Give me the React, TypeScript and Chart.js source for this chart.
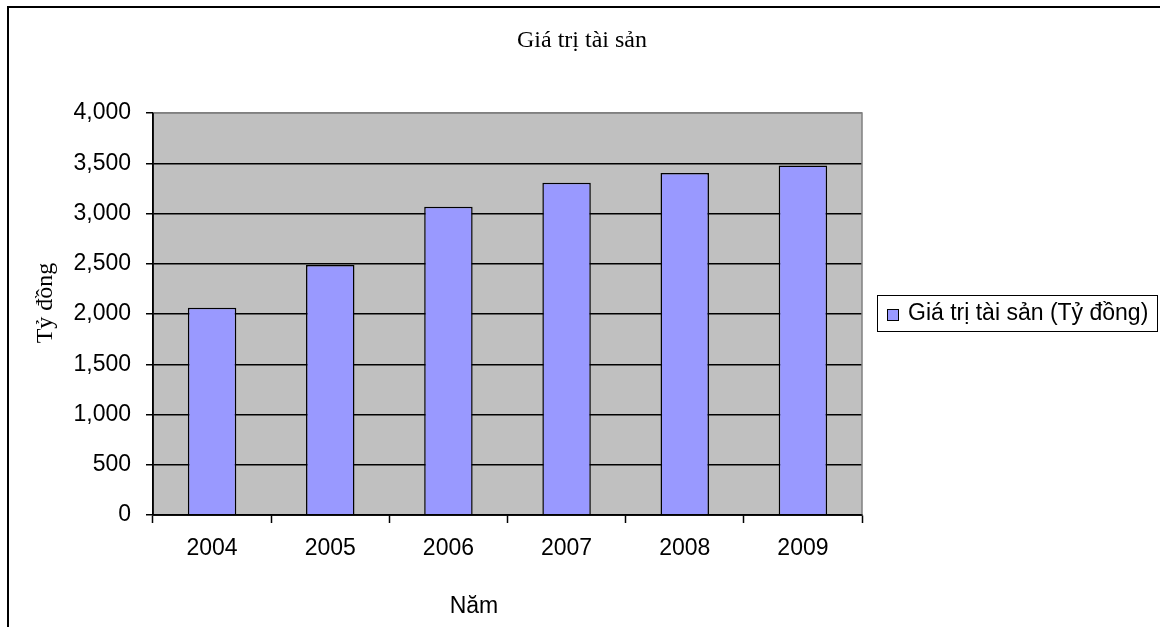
import React, { useEffect, useRef } from "react";
import { Chart, registerables } from "chart.js";

Chart.register(...registerables);

const years = ["2004", "2005", "2006", "2007", "2008", "2009"];
const assetValues = [2063, 2487, 3068, 3305, 3404, 3477];
const seriesLabel = "Giá trị tài sản (Tỷ đồng)";
const chartTitle = "Giá trị tài sản";
const yAxisTitle = "Tỷ đồng";
const xAxisTitle = "Năm";

const SANS = "'Liberation Sans', Arial, sans-serif";
const SERIF = "'Liberation Serif', 'Times New Roman', serif";
const BAR_FILL = "#9999FF";
const PLOT_FILL = "#C0C0C0";

// Frame, plot background, titles and the boxed legend
const decorations = {
  id: "decorations",
  beforeDraw(chart: any) {
    const { ctx, chartArea: a } = chart;
    ctx.save();
    ctx.fillStyle = "#FFFFFF";
    ctx.fillRect(0, 0, chart.width, chart.height);
    ctx.fillStyle = PLOT_FILL;
    ctx.fillRect(a.left, a.top, a.right - a.left, a.bottom - a.top);
    ctx.restore();
  },
  afterDraw(chart: any) {
    const { ctx, chartArea: a } = chart;
    ctx.save();
    // outer chart frame
    ctx.strokeStyle = "#000";
    ctx.lineWidth = 2;
    ctx.strokeRect(8, 7, 2000, 2000);

    // plot area border (top/right gray)
    ctx.strokeStyle = "#808080";
    ctx.lineWidth = 1.5;
    ctx.beginPath();
    ctx.moveTo(a.left, a.top);
    ctx.lineTo(a.right, a.top);
    ctx.lineTo(a.right, a.bottom);
    ctx.stroke();
    ctx.strokeStyle = "#000";
    ctx.beginPath();
    ctx.moveTo(a.left, a.bottom);
    ctx.lineTo(a.right, a.bottom);
    ctx.moveTo(a.left, a.top);
    ctx.lineTo(a.left, a.bottom);
    ctx.stroke();

    ctx.fillStyle = "#000";
    // chart title
    ctx.font = `24px ${SERIF}`;
    ctx.textAlign = "center";
    ctx.textBaseline = "middle";
    ctx.fillText(chartTitle, 582, 41);

    // y axis title
    ctx.save();
    ctx.translate(46, 303);
    ctx.rotate(-Math.PI / 2);
    ctx.fillText(yAxisTitle, 0, 0);
    ctx.restore();

    // x axis title
    ctx.font = `23px ${SANS}`;
    ctx.fillText(xAxisTitle, 474, 607);

    // legend
    const lx = 877, ly = 295, lw = 280, lh = 36;
    ctx.strokeStyle = "#000";
    ctx.lineWidth = 1;
    ctx.strokeRect(lx + 0.5, ly + 0.5, lw, lh);
    ctx.fillStyle = BAR_FILL;
    ctx.fillRect(887, 309, 12, 12);
    ctx.strokeRect(887.5, 309.5, 11, 11);
    ctx.fillStyle = "#000";
    ctx.textAlign = "left";
    ctx.fillText(chart.data.datasets[0].label, 908, 314);
    ctx.restore();
  },
};

export default function App() {
  const canvasRef = useRef<HTMLCanvasElement | null>(null);

  useEffect(() => {
    document.body.style.margin = "0";
    const canvas = canvasRef.current;
    if (!canvas) return;
    const chart = new Chart(canvas, {
      type: "bar",
      data: {
        labels: years,
        datasets: [
          {
            label: seriesLabel,
            data: assetValues,
            backgroundColor: BAR_FILL,
            borderColor: "#000",
            borderWidth: 1.5,
            barPercentage: 0.41,
            categoryPercentage: 1,
          },
        ],
      },
      options: {
        responsive: false,
        animation: false,
        layout: { padding: { left: 0, top: 113, right: 298, bottom: 0 } },
        plugins: {
          legend: { display: false },
          title: { display: false },
          tooltip: { enabled: false },
        },
        scales: {
          x: {
            offset: true,
            border: { display: true, color: "#000", width: 1.5 },
            grid: {
              offset: true,
              drawOnChartArea: false,
              drawTicks: true,
              tickLength: 8,
              tickColor: "#000",
              tickWidth: 1.5,
            },
            ticks: {
              color: "#000",
              padding: 12,
              font: { family: SANS, size: 23 },
              maxRotation: 0,
            },
            afterFit(scale: any) {
              scale.height = 112;
            },
          },
          y: {
            min: 0,
            max: 4000,
            border: { display: true, color: "#000", width: 1.5 },
            grid: {
              color: (c: any) => (c.tick && c.tick.value === 4000 ? "#808080" : "#000"),
              lineWidth: 1.5,
              drawTicks: true,
              tickLength: 7,
              tickColor: "#000",
            },
            ticks: {
              stepSize: 500,
              color: "#000",
              padding: 15,
              font: { family: SANS, size: 23 },
              callback: (v: any) => Number(v).toLocaleString("en-US"),
            },
            afterFit(scale: any) {
              scale.width = 153;
            },
          },
        },
      },
      plugins: [decorations],
    });
    return () => chart.destroy();
  }, []);

  return (
    <div style={{ width: 1160, height: 627 }}>
      <canvas ref={canvasRef} width={1160} height={627} style={{ display: "block" }} />
    </div>
  );
}
